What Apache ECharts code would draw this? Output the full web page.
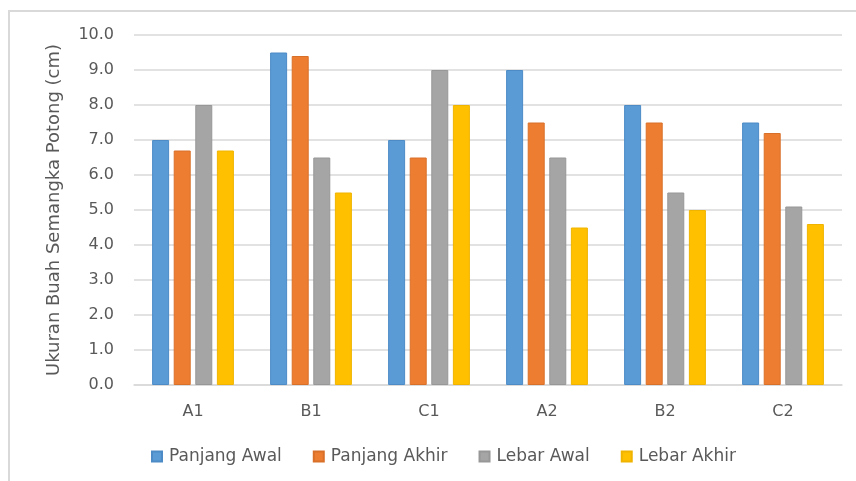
<!DOCTYPE html>
<html>
<head>
<meta charset="utf-8">
<script src="https://cdn.jsdelivr.net/npm/echarts@6/dist/echarts.min.js"></script>
<style>
  html, body { margin: 0; padding: 0; background: #fff; }
  #chart { width: 856px; height: 481px; }
</style>
</head>
<body>
<div id="chart"></div>
<script>
// Watermelon slice sizes per treatment (cm)
const categories = ['A1', 'B1', 'C1', 'A2', 'B2', 'C2'];
const panjangAwal  = [7.0, 9.5, 7.0, 9.0, 8.0, 7.5];
const panjangAkhir = [6.7, 9.4, 6.5, 7.5, 7.5, 7.2];
const lebarAwal    = [8.0, 6.5, 9.0, 6.5, 5.5, 5.1];
const lebarAkhir   = [6.7, 5.5, 8.0, 4.5, 5.0, 4.6];
const seriesNames  = ['Panjang Awal', 'Panjang Akhir', 'Lebar Awal', 'Lebar Akhir'];
const yTicks = { min: 0, max: 10, interval: 1 };

const fill   = ['#5B9BD5', '#ED7D31', '#A5A5A5', '#FFC000'];
const stroke = ['#4C8BC6', '#D9702A', '#979797', '#F0B400'];
const FONT = 'DejaVu Sans';
const TEXT = '#595959';

const chart = echarts.init(document.getElementById('chart'));
const data = [panjangAwal, panjangAkhir, lebarAwal, lebarAkhir];

chart.setOption({
  animation: false,
  backgroundColor: '#fff',
  textStyle: { fontFamily: FONT },
  graphic: [{
    type: 'rect',
    shape: { x: 9, y: 11, width: 900, height: 520 },
    style: { fill: 'none', stroke: '#d9d9d9', lineWidth: 2 },
    silent: true
  }],
  grid: { left: 134, right: 14, top: 35, bottom: 96 },
  legend: {
    data: seriesNames,
    left: 146,
    top: 443,
    itemWidth: 10,
    itemHeight: 10,
    itemGap: 31,
    icon: 'rect',
    textStyle: { color: TEXT, fontSize: 17, fontFamily: FONT, padding: [0, 0, 0, 2] }
  },
  xAxis: {
    type: 'category',
    data: categories,
    axisLine: { lineStyle: { color: '#d9d9d9', width: 1.5 } },
    axisTick: { show: false },
    axisLabel: { color: TEXT, fontSize: 16, margin: 19, fontFamily: FONT }
  },
  yAxis: {
    type: 'value',
    min: yTicks.min,
    max: yTicks.max,
    interval: yTicks.interval,
    name: 'Ukuran Buah Semangka Potong (cm)',
    nameLocation: 'middle',
    nameGap: 71,
    nameTextStyle: { color: TEXT, fontSize: 18, fontFamily: FONT },
    axisLine: { show: false },
    axisTick: { show: false },
    axisLabel: {
      color: TEXT, fontSize: 16, margin: 20, fontFamily: FONT,
      formatter: v => v.toFixed(1)
    },
    splitLine: { lineStyle: { color: '#d9d9d9', width: 1.5 } }
  },
  series: seriesNames.map((name, i) => ({
    name,
    type: 'bar',
    data: data[i],
    barWidth: 17,
    barGap: '27%',
    itemStyle: { color: fill[i], borderColor: stroke[i], borderWidth: 1 }
  }))
});
</script>
</body>
</html>
